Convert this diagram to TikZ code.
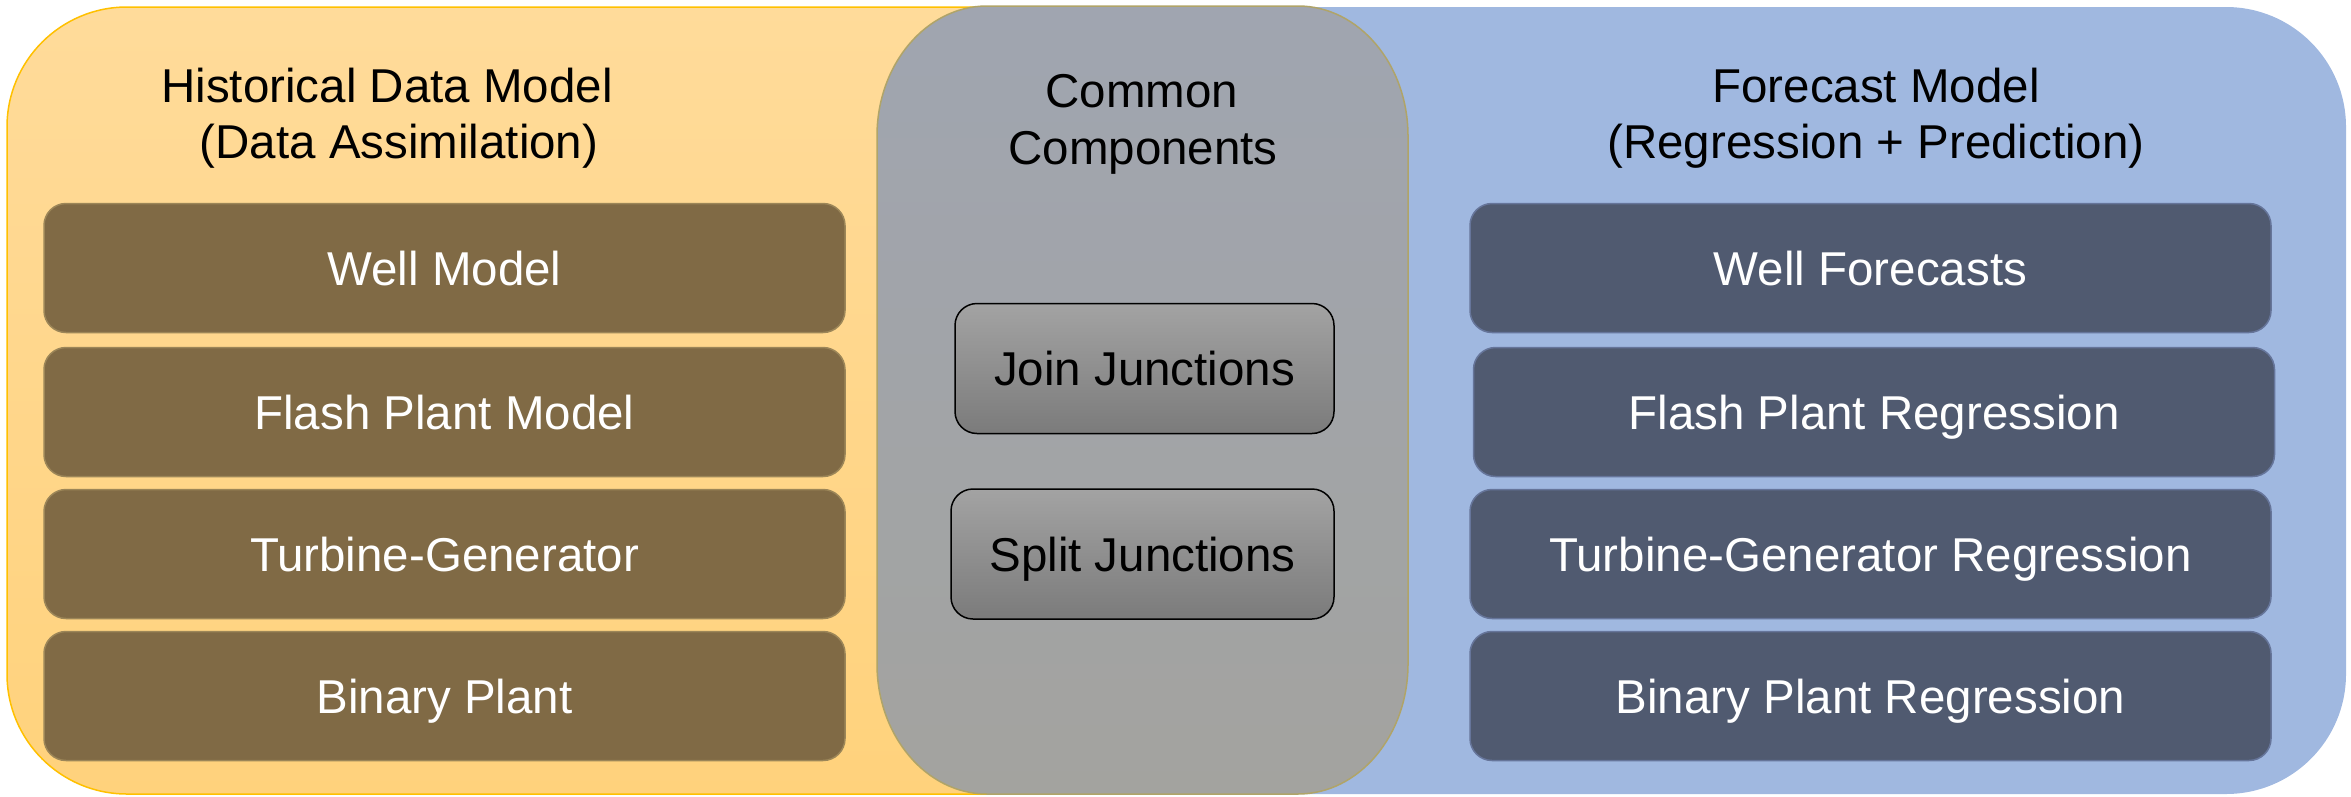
\documentclass[tikz,border=0pt]{standalone}
\usepackage{fontspec}
\setmainfont{Liberation Sans}
\definecolor{yeltop}{HTML}{FFDB9A}
\definecolor{yelbot}{HTML}{FFD27C}
\definecolor{yelline}{HTML}{FFC000}
\definecolor{bluepanel}{HTML}{A0B8E0}
\definecolor{graytop}{HTML}{A0A5B0}
\definecolor{graybot}{HTML}{A3A39F}
\definecolor{grayline}{HTML}{B0A468}
\definecolor{brownbox}{HTML}{806A45}
\definecolor{brownline}{HTML}{9C8658}
\definecolor{slatebox}{HTML}{505A70}
\definecolor{slateline}{HTML}{66759A}
\definecolor{jtop}{HTML}{A3A3A3}
\definecolor{jbot}{HTML}{7B7B7B}
\begin{document}
\begin{tikzpicture}[x=1pt,y=-1pt,
  every node/.style={font=\fontsize{47.5pt}{56pt}\selectfont},
  titletext/.style={anchor=base,inner sep=0pt,text=black},
  boxbase/.style={rounded corners=22pt,minimum height=129pt,inner sep=0pt,
    text height=34pt,text depth=0pt,line width=1.5pt},
  histbox/.style={boxbase,fill=brownbox,draw=brownline,text=white,minimum width=801pt},
  fcbox/.style={boxbase,fill=slatebox,draw=slateline,text=white,minimum width=801pt},
  junctionbox/.style={boxbase,top color=jtop,bottom color=jbot,draw=black,text=black,minimum height=130pt}
]
\useasboundingbox (0,0) rectangle (2351,796);
% panels
\fill[bluepanel,rounded corners=120pt] (1150,7) rectangle (2346,794);
\path[top color=yeltop,bottom color=yelbot,draw=yelline,line width=1.5pt,rounded corners=120pt] (7,7) rectangle (1282,794);
\path[top color=graytop,bottom color=graybot,draw=grayline,line width=1.5pt]
  (877,136) .. controls (877,64.2) and (926.3,6) .. (987,6) -- (1298,6)
  .. controls (1358.7,6) and (1408,64.2) .. (1408,136) -- (1408,664)
  .. controls (1408,735.8) and (1358.7,794) .. (1298,794) -- (987,794)
  .. controls (926.3,794) and (877,735.8) .. (877,664) -- cycle;
% titles
\node[titletext] (hist1) at (387,102) {Historical Data Model};
\node[titletext] (hist2) at (399,158) {(Data Assimilation)};
\node[titletext] (com1) at (1142,107) {Common};
\node[titletext] (com2) at (1143,164) {Components};
\node[titletext] (fc1) at (1876,102) {Forecast Model};
\node[titletext] (fc2) at (1876,158) {(Regression + Prediction)};
% left boxes
\node[histbox] (wm) at (444.5,268) {Well Model};
\node[histbox] (fpm) at (444.5,412) {Flash Plant Model};
\node[histbox] (tg) at (444.5,554) {Turbine-Generator};
\node[histbox] (bp) at (444.5,696) {Binary Plant};
% right boxes
\node[fcbox] (wf) at (1870.5,268) {Well Forecasts};
\node[fcbox] (fpr) at (1874,412) {Flash Plant Regression};
\node[fcbox] (tgr) at (1870.5,554) {Turbine-Generator Regression};
\node[fcbox] (bpr) at (1870.5,696) {Binary Plant Regression};
% middle boxes
\node[junctionbox,minimum width=379pt] (jj) at (1144.5,368.5) {Join Junctions};
\node[junctionbox,minimum width=383pt] (sj) at (1142.5,554) {Split Junctions};
\end{tikzpicture}
\end{document}
